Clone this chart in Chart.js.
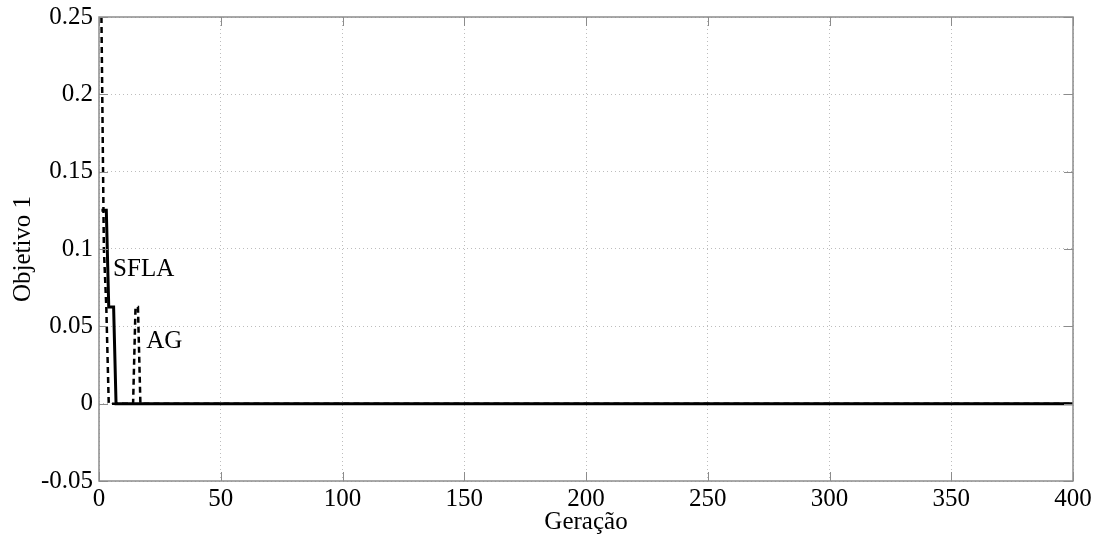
<!DOCTYPE html>
<html>
<head>
<meta charset="utf-8">
<title>Objetivo 1 x Geração</title>
<script src="https://cdn.jsdelivr.net/npm/chart.js@4.4.1/dist/chart.umd.min.js"></script>
<style>
  html, body { margin: 0; padding: 0; background: #fff; }
  #wrap { width: 1102px; height: 537px; }
</style>
</head>
<body>
<div id="wrap"><canvas id="chart" width="1102" height="537"></canvas></div>
<script>
// ——— Series (generation, objective value) ———
var agGen = [1, 2, 3, 4, 14, 15, 16, 17, 400];
var agVal = [0.25, 0.1, 0.0625, 0, 0, 0.0625, 0.0625, 0, 0];
var sflaGen = [1, 3, 4, 6, 7, 400];
var sflaVal = [0.125, 0.125, 0.0625, 0.0625, 0, 0];

var xTicks = [0, 50, 100, 150, 200, 250, 300, 350, 400];
var yTicks = [-0.05, 0, 0.05, 0.1, 0.15, 0.2, 0.25];

function pairs(xs, ys) {
  return xs.map(function (x, i) { return { x: x, y: ys[i] }; });
}

var serif = "'Liberation Serif', 'DejaVu Serif', serif";
var fontSize = 25;

// in-plot curve names
var curveNames = [
  { text: "SFLA", x: 5.8, y: 0.0865 },
  { text: "AG", x: 19.4, y: 0.040 }
];

// MATLAB style: box, inward ticks on all four sides, curve names
var boxPlugin = {
  id: "boxTicks",
  afterDatasetsDraw: function (chart) {
    var ctx = chart.ctx, a = chart.chartArea;
    var xs = chart.scales.x, ys = chart.scales.y;
    var len = 9;
    ctx.save();
    ctx.strokeStyle = "#8c8c8c";
    ctx.lineWidth = 1;
    ctx.beginPath();
    xTicks.forEach(function (v) {
      var px = Math.round(xs.getPixelForValue(v)) + 0.5;
      ctx.moveTo(px, a.top); ctx.lineTo(px, a.top + len);
      ctx.moveTo(px, a.bottom); ctx.lineTo(px, a.bottom - len);
    });
    yTicks.forEach(function (v) {
      var py = Math.round(ys.getPixelForValue(v)) + 0.5;
      ctx.moveTo(a.left, py); ctx.lineTo(a.left + len, py);
      ctx.moveTo(a.right, py); ctx.lineTo(a.right - len, py);
    });
    ctx.stroke();
    ctx.lineWidth = 1.5;
    ctx.strokeRect(a.left, a.top, a.right - a.left, a.bottom - a.top);

    ctx.fillStyle = "#000";
    ctx.font = fontSize + "px " + serif;
    ctx.textAlign = "left";
    ctx.textBaseline = "middle";
    curveNames.forEach(function (n) {
      ctx.fillText(n.text, xs.getPixelForValue(n.x), ys.getPixelForValue(n.y));
    });
    ctx.restore();
  }
};

new Chart(document.getElementById("chart"), {
  type: "line",
  data: {
    datasets: [
      {
        label: "AG",
        data: pairs(agGen, agVal),
        borderColor: "#000",
        borderWidth: 2.5,
        borderDash: [6, 4],
        pointRadius: 0,
        tension: 0,
        fill: false
      },
      {
        label: "SFLA",
        data: pairs(sflaGen, sflaVal),
        borderColor: "#000",
        borderWidth: 3,
        pointRadius: 0,
        tension: 0,
        fill: false
      }
    ]
  },
  options: {
    responsive: false,
    animation: false,
    layout: { padding: { top: 17, right: 29, left: 0, bottom: 0 } },
    plugins: { legend: { display: false }, tooltip: { enabled: false } },
    scales: {
      x: {
        type: "linear",
        min: 0,
        max: 400,
        afterBuildTicks: function (s) { s.ticks = xTicks.map(function (v) { return { value: v }; }); },
        afterFit: function (s) { s.height = 56; },
        grid: { color: "#bdbdbd", drawTicks: false, lineWidth: 1 },
        border: { display: false, dash: [1, 3] },
        ticks: { color: "#000", font: { family: serif, size: fontSize }, padding: 3, maxRotation: 0 },
        title: { display: true, text: "Geração", color: "#000", font: { family: serif, size: fontSize }, padding: { top: -10, bottom: 0 } }
      },
      y: {
        min: -0.05,
        max: 0.25,
        afterBuildTicks: function (s) { s.ticks = yTicks.map(function (v) { return { value: v }; }); },
        afterFit: function (s) { s.width = 99; s.paddingTop = 0; s.paddingBottom = 0; },
        grid: { color: "#bdbdbd", drawTicks: false, lineWidth: 1 },
        border: { display: false, dash: [1, 3] },
        ticks: {
          color: "#000", font: { family: serif, size: fontSize }, padding: 6,
          callback: function (v) { return String(Math.round(v * 100) / 100); }
        },
        title: { display: true, text: "Objetivo 1", color: "#000", font: { family: serif, size: fontSize }, padding: { top: 8, bottom: 0 } }
      }
    }
  },
  plugins: [boxPlugin]
});
</script>
</body>
</html>
